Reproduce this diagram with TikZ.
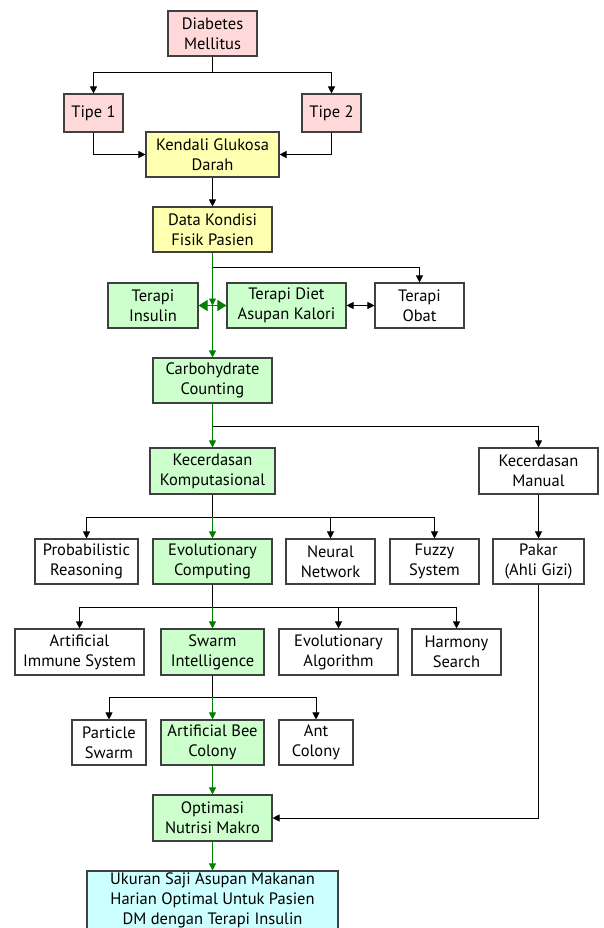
\documentclass[tikz,border=0pt]{standalone}
\usepackage{fontspec}
\setmainfont{PT Sans}
\usetikzlibrary{arrows.meta}
\definecolor{pinkf}{HTML}{FFD9D9}
\definecolor{yelf}{HTML}{FFFFB0}
\definecolor{grnf}{HTML}{CCFFCC}
\definecolor{cyanf}{HTML}{CCFFFF}
\definecolor{bord}{HTML}{404040}
\definecolor{garrow}{HTML}{008000}
\begin{document}
\begin{tikzpicture}[x=1pt,y=-1pt,
  bx/.style 2 args={draw=bord, line width=1.1pt, minimum width=#1pt, minimum height=#2pt,
     inner sep=0pt, align=center, font=\fontsize{16.5}{20}\selectfont},
  pinkb/.style={fill=pinkf},
  yelb/.style={fill=yelf},
  grnb/.style={fill=grnf},
  cyanb/.style={fill=cyanf},
  whtb/.style={fill=white},
  conn/.style={line width=0.9pt, draw=black},
  arr/.style={conn, -{Triangle[length=7pt,width=7pt]}},
  garr/.style={line width=0.9pt, draw=garrow, -{Triangle[length=7pt,width=7pt]}, color=garrow},
  gline/.style={line width=0.9pt, draw=garrow},
  gdbl/.style={line width=0.9pt, draw=garrow, color=garrow, {Triangle[length=9pt,width=11pt]}-{Triangle[length=9pt,width=11pt]}},
  dbl/.style={conn, {Triangle[length=7pt,width=7pt]}-{Triangle[length=7pt,width=7pt]}}
]
\useasboundingbox[fill=white] (0,0) rectangle (603,928);

\node[bx={89}{45}, pinkb] (dm) at (212.5,33.5) {Diabetes\\Mellitus};
\node[bx={59}{38}, pinkb] (t1) at (93.5,113) {Tipe 1};
\node[bx={59}{38}, pinkb] (t2) at (331.5,113) {Tipe 2};
\node[bx={133}{45}, yelb] (kg) at (212.5,154.5) {Kendali Glukosa\\Darah};
\node[bx={119}{45}, yelb] (dk) at (212.5,229.5) {Data Kondisi\\Fisik Pasien};
\node[bx={90}{45}, grnb] (ti) at (153,305.5) {Terapi\\Insulin};
\node[bx={119}{45}, grnb] (td) at (286.5,305.5) {Terapi Diet\\Asupan Kalori};
\node[bx={89}{45}, whtb] (to) at (419.5,305.5) {Terapi\\Obat};
\node[bx={119}{45}, grnb] (cc) at (212.5,380.5) {Carbohydrate\\Counting};
\node[bx={125}{46}, grnb] (kk) at (212.5,471) {Kecerdasan\\Komputasional};
\node[bx={119}{46}, whtb] (km) at (538.5,471) {Kecerdasan\\Manual};
\node[bx={103}{45}, whtb] (pr) at (86.5,561.5) {Probabilistic\\Reasoning};
\node[bx={119}{45}, grnb] (ec) at (212.5,561.5) {Evolutionary\\Computing};
\node[bx={89}{45}, whtb] (nn) at (330.5,561.5) {Neural\\Network};
\node[bx={89}{45}, whtb] (fs) at (434.5,561.5) {Fuzzy\\System};
\node[bx={91}{45}, whtb] (pk) at (538.5,561.5) {Pakar\\(Ahli Gizi)};
\node[bx={129}{46}, whtb] (ai) at (79.5,652) {Artificial\\Immune System};
\node[bx={103}{46}, grnb] (si) at (212.5,652) {Swarm\\Intelligence};
\node[bx={119}{46}, whtb] (ea) at (338.5,652) {Evolutionary\\Algorithm};
\node[bx={89}{46}, whtb] (hs) at (456.5,652) {Harmony\\Search};
\node[bx={74}{45}, whtb] (ps) at (109,742.5) {Particle\\Swarm};
\node[bx={103}{45}, grnb] (ab) at (212.5,742.5) {Artificial Bee\\Colony};
\node[bx={74}{45}, whtb] (ac) at (316,742.5) {Ant\\Colony};
\node[bx={119}{46}, grnb] (on) at (212.5,818) {Optimasi\\Nutrisi Makro};
\node[bx={251}{59}, cyanb] (uk) at (212.5,900.5) {Ukuran Saji Asupan Makanan\\Harian Optimal Untuk Pasien\\DM dengan Terapi Insulin};

% coordinates for junctions
\coordinate (j0) at (212.5,72);
\coordinate (j1) at (212.5,267);
\coordinate (jt) at (212.5,305.5);
\coordinate (j2) at (212.5,426);
\coordinate (j3) at (212.5,517);
\coordinate (j4) at (212.5,607);
\coordinate (j5) at (212.5,697);

% top
\draw[conn] (dm.south) -- (j0);
\draw[arr] (j0) -| (t1.north);
\draw[arr] (j0) -| (t2.north);
\draw[arr] (t1.south) |- (kg.west);
\draw[arr] (t2.south) |- (kg.east);
\draw[arr] (kg.south) -- (dk.north);

% terapi
\draw[arr] (j1) -| (to.north);
\draw[gline] (dk.south) -- (j1);
\draw[gdbl] (ti.east) -- (td.west);
\draw[garr] (j1) -- (jt);
\draw[garr] (jt) -- (cc.north);
\draw[dbl] (td.east) -- (to.west);

% kecerdasan
\draw[arr] (j2) -| (km.north);
\draw[garr] (cc.south) -- (kk.north);
\draw[arr] (km.south) -- (pk.north);

% row 1
\draw[conn] (kk.south) -- (j3);
\draw[arr] (j3) -| (pr.north);
\draw[arr] (j3) -| (nn.north);
\draw[arr] (j3) -| (fs.north);
\draw[garr] (j3) -- (ec.north);

% row 2
\draw[conn] (ec.south) -- (j4);
\draw[arr] (j4) -| (ai.north);
\draw[arr] (j4) -| (ea.north);
\draw[arr] (j4) -| (hs.north);
\draw[garr] (j4) -- (si.north);

% row 3
\draw[conn] (si.south) -- (j5);
\draw[arr] (j5) -| (ps.north);
\draw[arr] (j5) -| (ac.north);
\draw[garr] (j5) -- (ab.north);

% bottom
\draw[garr] (ab.south) -- (on.north);
\draw[arr] (pk.south) |- (on.east);
\draw[garr] (on.south) -- (uk.north);
\end{tikzpicture}
\end{document}
